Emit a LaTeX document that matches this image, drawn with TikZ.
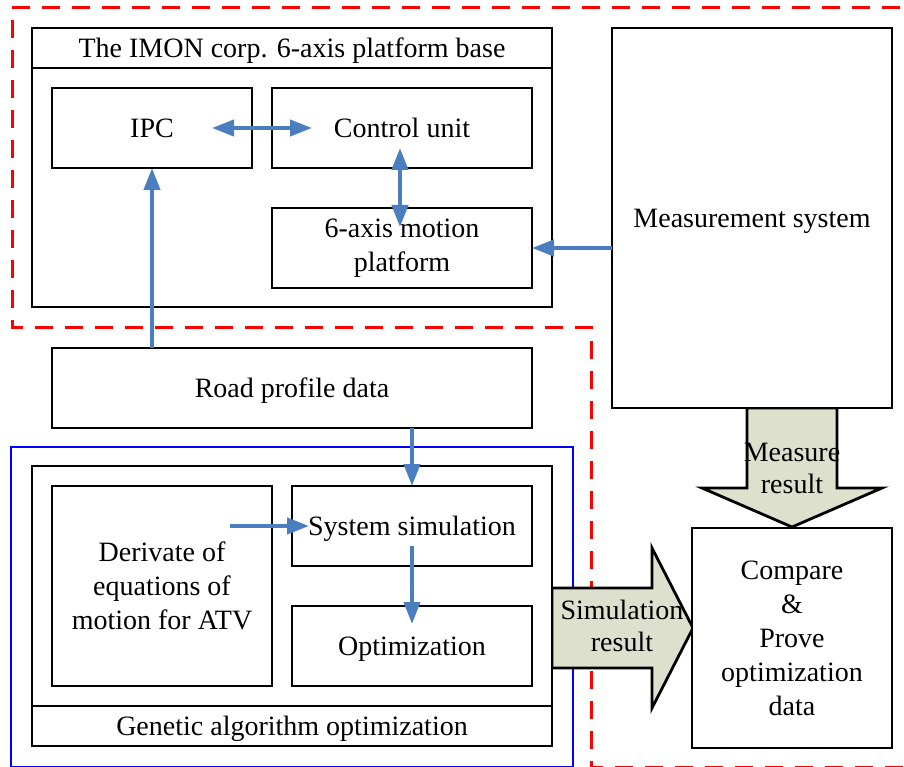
\documentclass[tikz,border=0pt]{standalone}
\usepackage{fontspec}
\setmainfont{Liberation Serif}
\usetikzlibrary{arrows.meta,calc}
\definecolor{flowblue}{HTML}{4A7EBF}
\definecolor{blockfill}{HTML}{DDE0CC}
\begin{document}
\begin{tikzpicture}[x=1pt,y=-1pt,
  box/.style={draw=black, fill=white, line width=2.8pt, inner sep=0pt, outer sep=0pt,
    align=center, font=\fontsize{28}{34}\selectfont},
  oneline/.style={text height=18.6pt, text depth=0pt},
  lbl/.style={inner sep=0pt, align=center, font=\fontsize{28}{32}\selectfont},
  flow/.style={draw=flowblue, line width=4pt, -{Triangle[length=22pt,width=16pt]}},
  flowboth/.style={draw=flowblue, line width=4pt,
    {Triangle[length=22pt,width=16pt]}-{Triangle[length=22pt,width=16pt]}},
  block/.style={draw=black, fill=blockfill, line width=2.8pt, line join=miter}]

\useasboundingbox (0,0) rectangle (904,767);
\clip (0,0) rectangle (904,767);

% group frames
\draw[red, line width=3pt, dash pattern=on 18pt off 12pt]
  (930,8) -- (12,8) -- (12,327) -- (591,327) -- (591,767) -- (930,767);
\draw[blue, line width=2pt] (11,447) rectangle (573,767);

% result block arrows
\draw[block] (747,408) -- (747,488) -- (702,488) -- (792,527) -- (882,488)
  -- (837,488) -- (837,408) -- cycle;
\draw[block] (552,588) -- (652,588) -- (652,548) -- (693,628) -- (652,708)
  -- (652,668) -- (552,668) -- cycle;

% platform base
\node[box, minimum width=520pt, minimum height=279pt] (imon) at (292,167.5) {};
\node[box, oneline, minimum width=520pt, minimum height=40pt] (imontitle) at (292,48)
  {The IMON corp. 6-axis platform base};
\node[box, oneline, minimum width=200pt, minimum height=80pt] (ipc) at (152,128) {IPC};
\node[box, oneline, minimum width=260pt, minimum height=80pt] (ctrl) at (402,128) {Control unit};
\node[box, minimum width=260pt, minimum height=80pt] (plat) at (402,248)
  {6-axis motion\\platform};

\node[box, oneline, minimum width=280pt, minimum height=380pt] (meas) at (752,218)
  {Measurement system};
\node[box, oneline, minimum width=480pt, minimum height=80pt] (road) at (292,388)
  {Road profile data};

% genetic algorithm optimization
\node[box, minimum width=520pt, minimum height=280pt] (ga) at (292,606) {};
\node[box, oneline, minimum width=520pt, minimum height=40pt] (gatitle) at (292,726)
  {Genetic algorithm optimization};
\node[box, minimum width=220pt, minimum height=200pt] (deriv) at (162,586)
  {Derivate of\\equations of\\motion for ATV};
\node[box, oneline, minimum width=240pt, minimum height=80pt] (sim) at (412,526)
  {System simulation};
\node[box, oneline, minimum width=240pt, minimum height=80pt] (opt) at (412,646)
  {Optimization};

\node[box, minimum width=200pt, minimum height=220pt] (cmp) at (792,638)
  {Compare\\\&\\Prove\\optimization\\data};

% data flow
\draw[flowboth] ([xshift=-40pt]ipc.east) -- ([xshift=40pt]ctrl.west);
\draw[flowboth] ([xshift=-2pt,yshift=20pt]ctrl.south) -- ([xshift=-2pt,yshift=-19pt]plat.north);
\draw[flow] (road.north -| ipc.south) -- (ipc.south);
\draw[flow] (meas.west |- plat.east) -- (plat.east);
\draw[flow] (road.south -| sim.north) -- (sim.north);
\draw[flow] ($(deriv.east |- sim.west)+(-42,0)$) -- ([xshift=17pt]sim.west);
\draw[flow] ([yshift=20pt]sim.south) -- ([yshift=-18pt]opt.north);

% block arrow labels
\node[lbl] (measlbl) at (792,468) {Measure\\result};
\node[lbl] (simlbl) at (622,626) {Simulation\\result};
\end{tikzpicture}
\end{document}
